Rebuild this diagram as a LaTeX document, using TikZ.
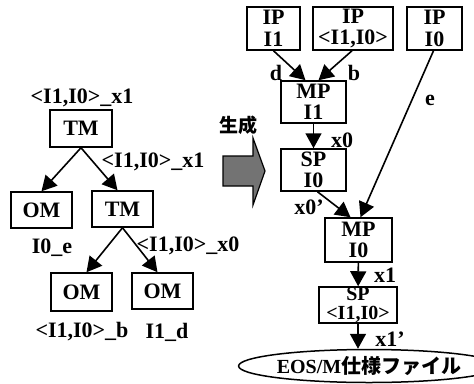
\documentclass[tikz,border=0pt]{standalone}
\usepackage{fontspec}
\setmainfont{Liberation Serif}
\newfontfamily\jpfont{Noto Sans CJK JP}
\usetikzlibrary{arrows.meta,shapes.geometric}
\begin{document}
\begin{tikzpicture}[x=1pt,y=-1pt,
  box/.style={draw, line width=1.5pt, inner sep=0pt, align=center,
    font=\bfseries\fontsize{22}{21.5}\selectfont},
  lbl/.style={inner sep=0pt, font=\bfseries\fontsize{22}{22}\selectfont},
  arr/.style={line width=1.6pt, -{Triangle[length=15pt,width=16pt]}}]
\useasboundingbox (0,0) rectangle (474,383);
% left tree
\node[box, minimum width=62pt, minimum height=37pt] (tm) at (81,128.5) {TM};
\node[box, minimum width=61pt, minimum height=36pt] (om1) at (41.5,210) {OM};
\node[box, minimum width=61pt, minimum height=36pt] (tm2) at (122.5,209) {TM};
\node[box, minimum width=61pt, minimum height=38pt] (om3) at (81.5,292) {OM};
\node[box, minimum width=61pt, minimum height=36pt] (om4) at (162.5,291) {OM};
\node[lbl] (l1) at (82,98) {<I1,I0>\_x1};
\node[lbl] (l2) at (153,162) {<I1,I0>\_x1};
\node[lbl] (l3) at (52,248) {I0\_e};
\node[lbl] (l4) at (188,246) {<I1,I0>\_x0};
\node[lbl] (l5) at (82,332) {<I1,I0>\_b};
\node[lbl] (l6) at (167,332) {I1\_d};
\draw[arr] (tm.south) -- (om1.north);
\draw[arr] (tm.south) -- ([xshift=-5pt]tm2.north);
\draw[arr] (tm2.south) -- ([xshift=5pt]om3.north);
\draw[arr] (tm2.south) -- ([xshift=-5pt]om4.north);
% block arrow
\node[inner sep=0pt, font=\jpfont\bfseries\fontsize{19}{20}\selectfont] (gen) at (238,125) {生成};
\draw[line width=1.2pt, fill=black!55] (223,156) -- (253,156) -- (253,138) -- (265,171)
  -- (253,205) -- (253,186) -- (223,186) -- cycle;
% right flow
\node[box, minimum width=53pt, minimum height=43pt] (ip1) at (273.5,28.5) {IP\\I1};
\node[box, minimum width=80pt, minimum height=43pt] (ip2) at (353,28.5) {IP\\<I1,I0>};
\node[box, minimum width=55pt, minimum height=43pt] (ip0) at (434.5,28.5) {IP\\I0};
\node[box, minimum width=65pt, minimum height=42pt] (mp1) at (313.5,102) {MP\\I1};
\node[box, minimum width=65pt, minimum height=42pt] (sp0) at (313.5,170) {SP\\I0};
\node[box, minimum width=67pt, minimum height=44pt] (mp0) at (358.5,240) {MP\\I0};
\node[box, minimum width=78pt, minimum height=36pt,
  font=\bfseries\fontsize{20}{19}\selectfont] (spb) at (358,305) {SP\\<I1,I0>};
\node[draw, ellipse, line width=1.5pt, inner sep=0pt, minimum width=208pt,
  minimum height=33pt, font=\bfseries\fontsize{20}{20}\selectfont] (eos) at (369,366)
  {EOS/M{\jpfont\bfseries 仕様ファイル}};
\node[lbl] (ld) at (276,73) {d};
\node[lbl] (lb) at (354,73) {b};
\node[lbl] (le) at (430,100) {e};
\node[lbl] (lx0) at (342,140) {x0};
\node[lbl] (lx0p) at (309,207) {x0’};
\node[lbl] (lx1) at (385,275) {x1};
\node[lbl] (lx1p) at (390,339) {x1’};
\draw[arr] (ip1.south) -- ([xshift=-8pt]mp1.north);
\draw[arr] ([xshift=-1pt]ip2.south) -- ([xshift=5pt]mp1.north);
\draw[arr] (mp1) -- (sp0);
\draw[arr] ([xshift=-1pt]ip0.south) -- ([xshift=2pt]mp0.north);
\draw[arr] ([xshift=4pt]sp0.south) -- ([xshift=-8pt]mp0.north);
\draw[arr] (mp0) -- (spb);
\draw[arr] (spb.south) -- ([xshift=-11pt]eos.north);
\end{tikzpicture}
\end{document}
